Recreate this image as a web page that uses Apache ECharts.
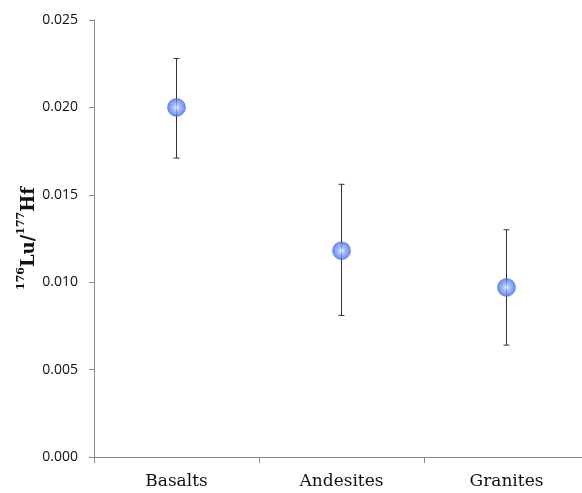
<!DOCTYPE html>
<html>
<head>
<meta charset="utf-8">
<script src="https://cdn.jsdelivr.net/npm/echarts@6/dist/echarts.min.js"></script>
<style>
  html, body { margin: 0; padding: 0; background: #fff; }
  #chart { width: 582px; height: 493px; }
</style>
</head>
<body>
<div id="chart"></div>
<script>
// Mean 176Lu/177Hf ratio per rock type with error range
const categories = ['Basalts', 'Andesites', 'Granites'];
const means = [0.0200, 0.0118, 0.0097];
const upper = [0.0228, 0.0156, 0.0130];
const lower = [0.0171, 0.0081, 0.0064];
const yTicks = { min: 0, max: 0.025, interval: 0.005 };

const chart = echarts.init(document.getElementById('chart'));

const sphere = new echarts.graphic.RadialGradient(0.5, 0.5, 0.55, [
  { offset: 0, color: '#f4f7ff' },
  { offset: 0.3, color: '#9ab4ff' },
  { offset: 0.75, color: '#557cf3' },
  { offset: 1, color: '#3657d4' }
]);

chart.setOption({
  animation: false,
  // plot area runs past the right edge of the canvas
  grid: { left: 94, width: 495, top: 20, bottom: 36, outerBoundsMode: 'none', containLabel: false },
  xAxis: {
    type: 'category',
    data: categories,
    boundaryGap: true,
    axisLine: { lineStyle: { color: '#8a8a8a', width: 1 } },
    axisTick: { show: true, length: 6, lineStyle: { color: '#8a8a8a' } },
    axisLabel: {
      fontFamily: 'DejaVu Serif',
      fontSize: 17,
      color: '#111',
      margin: 16
    },
    splitLine: { show: false }
  },
  yAxis: {
    type: 'value',
    min: yTicks.min,
    max: yTicks.max,
    interval: yTicks.interval,
    axisLine: { show: true, lineStyle: { color: '#8a8a8a', width: 1 } },
    axisTick: { show: true, length: 5, lineStyle: { color: '#8a8a8a' } },
    axisLabel: {
      formatter: v => v.toFixed(3),
      fontFamily: 'Open Sans',
      fontSize: 14,
      color: '#111',
      margin: 16
    },
    splitLine: { show: false },
    name: '{sup|176}{b|Lu/}{sup|177}{b|Hf}',
    nameLocation: 'middle',
    nameRotate: 90,
    nameGap: 56,
    nameMoveOverlap: false,
    nameTextStyle: {
      rich: {
        b: { fontFamily: 'DejaVu Serif', fontWeight: 'bold', fontSize: 18, color: '#111', verticalAlign: 'bottom', lineHeight: 22 },
        sup: { fontFamily: 'DejaVu Serif', fontWeight: 'bold', fontSize: 11, color: '#111', verticalAlign: 'top', lineHeight: 22, padding: [0, 0, 9, 0] }
      }
    }
  },
  series: [
    {
      type: 'custom',
      name: 'range',
      data: categories.map((c, i) => [i, lower[i], upper[i]]),
      renderItem: (params, api) => {
        const x = api.coord([api.value(0), 0])[0];
        const yLo = api.coord([api.value(0), api.value(1)])[1];
        const yHi = api.coord([api.value(0), api.value(2)])[1];
        const cap = 3;
        const style = { stroke: '#333', lineWidth: 1 };
        return {
          type: 'group',
          children: [
            { type: 'line', shape: { x1: x, y1: yHi, x2: x, y2: yLo }, style },
            { type: 'line', shape: { x1: x - cap, y1: yHi, x2: x + cap, y2: yHi }, style },
            { type: 'line', shape: { x1: x - cap, y1: yLo, x2: x + cap, y2: yLo }, style }
          ]
        };
      },
      z: 2
    },
    {
      type: 'scatter',
      name: 'mean',
      data: means,
      symbol: 'circle',
      symbolSize: 18,
      itemStyle: { color: sphere, borderColor: '#4a66c8', borderWidth: 0.6 },
      z: 3
    }
  ]
});
</script>
</body>
</html>
